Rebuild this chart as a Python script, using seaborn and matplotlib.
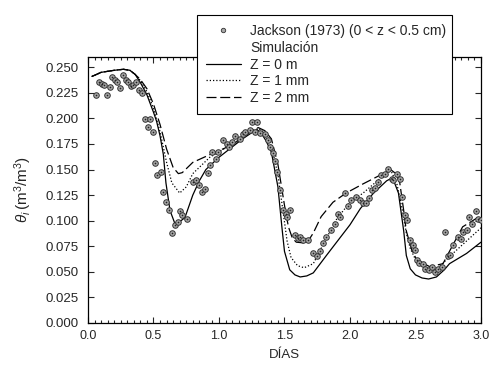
import numpy as np
import pandas as pd
import seaborn as sns
import matplotlib
matplotlib.use('Agg')
import matplotlib.pyplot as plt
from matplotlib.lines import Line2D
from matplotlib.patches import Rectangle
from matplotlib.ticker import MultipleLocator

# Jackson (1973) observations, 0 < z < 0.5 cm
obs_dias = [0.061, 0.086, 0.104, 0.122, 0.147, 0.168, 0.186, 0.206, 0.224, 0.244,
            0.264, 0.290, 0.308, 0.326, 0.346, 0.366, 0.387, 0.410, 0.435, 0.473,
            0.460, 0.498, 0.514, 0.530, 0.555, 0.575, 0.595, 0.620, 0.638, 0.664,
            0.689, 0.700, 0.720, 0.758, 0.800, 0.824, 0.850, 0.867, 0.893, 0.913,
            0.930, 0.950, 0.977, 0.995, 1.030, 1.058, 1.080, 1.100, 1.120, 1.160,
            1.186, 1.200, 1.237, 1.250, 1.275, 1.290, 1.310, 1.350, 1.376, 1.390,
            1.415, 1.427, 1.445, 1.466, 1.486, 1.510, 1.520, 1.542, 1.580, 1.600,
            1.620, 1.645, 1.680, 1.720, 1.745, 1.770, 1.797, 1.820, 1.855, 1.886,
            1.910, 1.920, 1.960, 1.987, 2.010, 2.045, 2.076, 2.100, 2.120, 2.147,
            2.165, 2.190, 2.216, 2.240, 2.267, 2.290, 2.318, 2.330, 2.356, 2.380,
            2.400, 2.420, 2.437, 2.458, 2.478, 2.496, 2.508, 2.530, 2.555, 2.573,
            2.606, 2.623, 2.650, 2.674, 2.700, 2.725, 2.750, 2.763, 2.790, 2.826,
            2.844, 2.865, 2.890, 2.910, 2.930, 2.960, 2.980, 3.000]
obs_theta = [0.223, 0.236, 0.234, 0.233, 0.223, 0.231, 0.240, 0.238, 0.236, 0.230,
             0.242, 0.238, 0.236, 0.232, 0.233, 0.236, 0.228, 0.225, 0.199, 0.199,
             0.192, 0.187, 0.156, 0.145, 0.148, 0.128, 0.118, 0.110, 0.088, 0.096,
             0.099, 0.109, 0.106, 0.102, 0.138, 0.140, 0.135, 0.128, 0.131, 0.147,
             0.154, 0.167, 0.160, 0.167, 0.179, 0.175, 0.172, 0.177, 0.183, 0.180,
             0.185, 0.187, 0.189, 0.196, 0.187, 0.196, 0.186, 0.185, 0.179, 0.172,
             0.166, 0.158, 0.148, 0.130, 0.110, 0.107, 0.104, 0.110, 0.086, 0.083,
             0.084, 0.081, 0.081, 0.068, 0.065, 0.070, 0.078, 0.084, 0.091, 0.097,
             0.107, 0.104, 0.127, 0.114, 0.120, 0.123, 0.120, 0.117, 0.117, 0.122,
             0.130, 0.132, 0.138, 0.145, 0.146, 0.151, 0.141, 0.140, 0.146, 0.141,
             0.123, 0.106, 0.101, 0.081, 0.076, 0.071, 0.062, 0.059, 0.058, 0.053,
             0.052, 0.055, 0.050, 0.053, 0.055, 0.089, 0.065, 0.066, 0.076, 0.084,
             0.082, 0.089, 0.091, 0.104, 0.097, 0.109, 0.102, 0.101]

# Simulation, Z = 0 m
z0_dias = [0.03, 0.10, 0.20, 0.27, 0.32, 0.36, 0.40, 0.45, 0.50, 0.524, 0.55,
           0.575, 0.595, 0.626, 0.664, 0.70, 0.74, 0.80, 0.85, 0.90, 1.00, 1.10,
           1.18, 1.25, 1.29, 1.32, 1.36, 1.40, 1.45, 1.48, 1.50, 1.54, 1.58, 1.62,
           1.67, 1.72, 1.82, 1.91, 2.00, 2.08, 2.18, 2.28, 2.31, 2.34, 2.37, 2.41,
           2.43, 2.46, 2.50, 2.55, 2.60, 2.66, 2.72, 2.76, 2.89, 3.00]
z0_theta = [0.241, 0.245, 0.247, 0.248, 0.247, 0.243, 0.235, 0.223, 0.206, 0.197,
            0.183, 0.165, 0.137, 0.110, 0.097, 0.099, 0.103, 0.125, 0.139, 0.150,
            0.162, 0.172, 0.180, 0.186, 0.189, 0.186, 0.178, 0.167, 0.133, 0.094,
            0.070, 0.052, 0.047, 0.045, 0.046, 0.049, 0.066, 0.081, 0.096, 0.112,
            0.127, 0.139, 0.141, 0.137, 0.127, 0.090, 0.066, 0.053, 0.047, 0.044,
            0.043, 0.045, 0.052, 0.058, 0.068, 0.079]

# Simulation, Z = 1 mm
z1_dias = [0.03, 0.10, 0.20, 0.27, 0.32, 0.36, 0.40, 0.45, 0.50, 0.55, 0.60,
           0.64, 0.70, 0.75, 0.80, 0.93, 1.10, 1.25, 1.30, 1.34, 1.40, 1.45,
           1.49, 1.52, 1.55, 1.60, 1.65, 1.72, 1.80, 1.90, 2.00, 2.10, 2.20,
           2.29, 2.32, 2.36, 2.40, 2.43, 2.46, 2.50, 2.56, 2.66, 2.76, 2.88, 3.00]
z1_theta = [0.241, 0.245, 0.247, 0.248, 0.247, 0.243, 0.237, 0.226, 0.210, 0.187,
            0.157, 0.137, 0.127, 0.133, 0.146, 0.162, 0.175, 0.188, 0.190, 0.187,
            0.173, 0.145, 0.108, 0.080, 0.064, 0.056, 0.054, 0.058, 0.078, 0.102,
            0.118, 0.127, 0.138, 0.148, 0.147, 0.135, 0.110, 0.088, 0.073, 0.062,
            0.055, 0.052, 0.065, 0.079, 0.093]

# Simulation, Z = 2 mm
z2_dias = [0.03, 0.10, 0.20, 0.27, 0.32, 0.36, 0.40, 0.45, 0.50, 0.55, 0.60,
           0.65, 0.69, 0.72, 0.80, 0.955, 1.10, 1.25, 1.30, 1.35, 1.40, 1.45,
           1.50, 1.53, 1.56, 1.59, 1.67, 1.72, 1.78, 1.87, 1.97, 2.10, 2.23,
           2.31, 2.35, 2.38, 2.41, 2.43, 2.47, 2.51, 2.61, 2.71, 2.78, 2.86, 3.00]
z2_theta = [0.241, 0.245, 0.247, 0.248, 0.247, 0.243, 0.238, 0.229, 0.214, 0.194,
            0.170, 0.152, 0.146, 0.147, 0.157, 0.166, 0.174, 0.188, 0.191, 0.188,
            0.180, 0.155, 0.115, 0.094, 0.083, 0.079, 0.078, 0.088, 0.104, 0.118,
            0.127, 0.136, 0.1445, 0.150, 0.146, 0.137, 0.110, 0.090, 0.072, 0.0615,
            0.055, 0.058, 0.075, 0.094, 0.105]

x_ticks = [0.0, 0.5, 1.0, 1.5, 2.0, 2.5, 3.0]
y_ticks = [0.000, 0.025, 0.050, 0.075, 0.100, 0.125, 0.150, 0.175, 0.200, 0.225, 0.250]

sns.set_style('ticks')
plt.rcParams['font.family'] = ['Liberation Sans', 'DejaVu Sans']
plt.rcParams['mathtext.fontset'] = 'custom'
plt.rcParams['mathtext.rm'] = 'Liberation Sans'
plt.rcParams['mathtext.it'] = 'Liberation Sans:italic'

fig = plt.figure(figsize=(4.91, 3.65), dpi=100)
ax = fig.add_axes([0.1792, 0.1151, 0.8004, 0.7287])

obs = pd.DataFrame({'dias': obs_dias, 'theta': obs_theta})
sns.scatterplot(data=obs, x='dias', y='theta', ax=ax, marker='o', s=16,
                facecolor='#a8a8a8', edgecolor='#333333', linewidth=0.7, zorder=3)
sns.scatterplot(data=obs, x='dias', y='theta', ax=ax, marker='o', s=1.5,
                color='#222222', linewidth=0, zorder=4)

lw = 0.9
sns.lineplot(x=z0_dias, y=z0_theta, ax=ax, color='black', linewidth=lw,
             linestyle='-', estimator=None, zorder=2)
sns.lineplot(x=z1_dias, y=z1_theta, ax=ax, color='black', linewidth=lw,
             linestyle=(0, (1, 1.6)), estimator=None, zorder=2)
sns.lineplot(x=z2_dias, y=z2_theta, ax=ax, color='black', linewidth=lw,
             linestyle=(0, (8, 3)), estimator=None, zorder=2)

ax.set_xlim(0, 3.0)
ax.set_ylim(0, 0.26)
ax.set_xticks(x_ticks)
ax.set_xticklabels([f'{v:.1f}' for v in x_ticks], fontsize=9)
ax.set_yticks(y_ticks)
ax.set_yticklabels([f'{v:.3f}' for v in y_ticks], fontsize=9.5)
ax.xaxis.set_minor_locator(MultipleLocator(0.05))
ax.tick_params(which='both', direction='in', top=True, right=True, width=0.8)
ax.tick_params(which='major', length=4)
ax.tick_params(which='minor', length=2)
ax.tick_params(axis='y', pad=7)
ax.tick_params(axis='x', pad=5)
for sp in ax.spines.values():
    sp.set_linewidth(0.9)
    sp.set_color('black')

ax.set_xlabel('DÍAS', fontsize=9.5, labelpad=5)
ax.set_ylabel(r'$\theta_i\,(\mathrm{m}^3/\mathrm{m}^3)$', fontsize=11, labelpad=8)

handles = [
    Line2D([], [], linestyle='none', marker='o', markersize=3.2,
           markerfacecolor='#a8a8a8', markeredgecolor='#333333', markeredgewidth=0.6),
    Rectangle((0, 0), 1, 1, fill=False, edgecolor='none', visible=False),
    Line2D([], [], color='black', linewidth=lw, linestyle='-'),
    Line2D([], [], color='black', linewidth=lw, linestyle=(0, (1, 1.6))),
    Line2D([], [], color='black', linewidth=lw, linestyle=(0, (8, 3))),
]
labels = ['Jackson (1973) (0 < z < 0.5 cm)', 'Simulación', 'Z = 0 m', 'Z = 1 mm', 'Z = 2 mm']
x0, x1 = 197 / 491, 452 / 491
y1, y0 = 1 - 15 / 365, 1 - 112 / 365
leg = fig.legend(handles, labels, loc='upper left',
                 bbox_to_anchor=(x0, y0, x1 - x0, y1 - y0), mode='expand',
                 fontsize=10, frameon=True, fancybox=False, edgecolor='black',
                 framealpha=1, handlelength=2.5, handletextpad=0.7,
                 labelspacing=0.2, borderpad=0.65, borderaxespad=0)
leg.get_frame().set_linewidth(0.8)

fig.savefig('out.png', dpi=100)
